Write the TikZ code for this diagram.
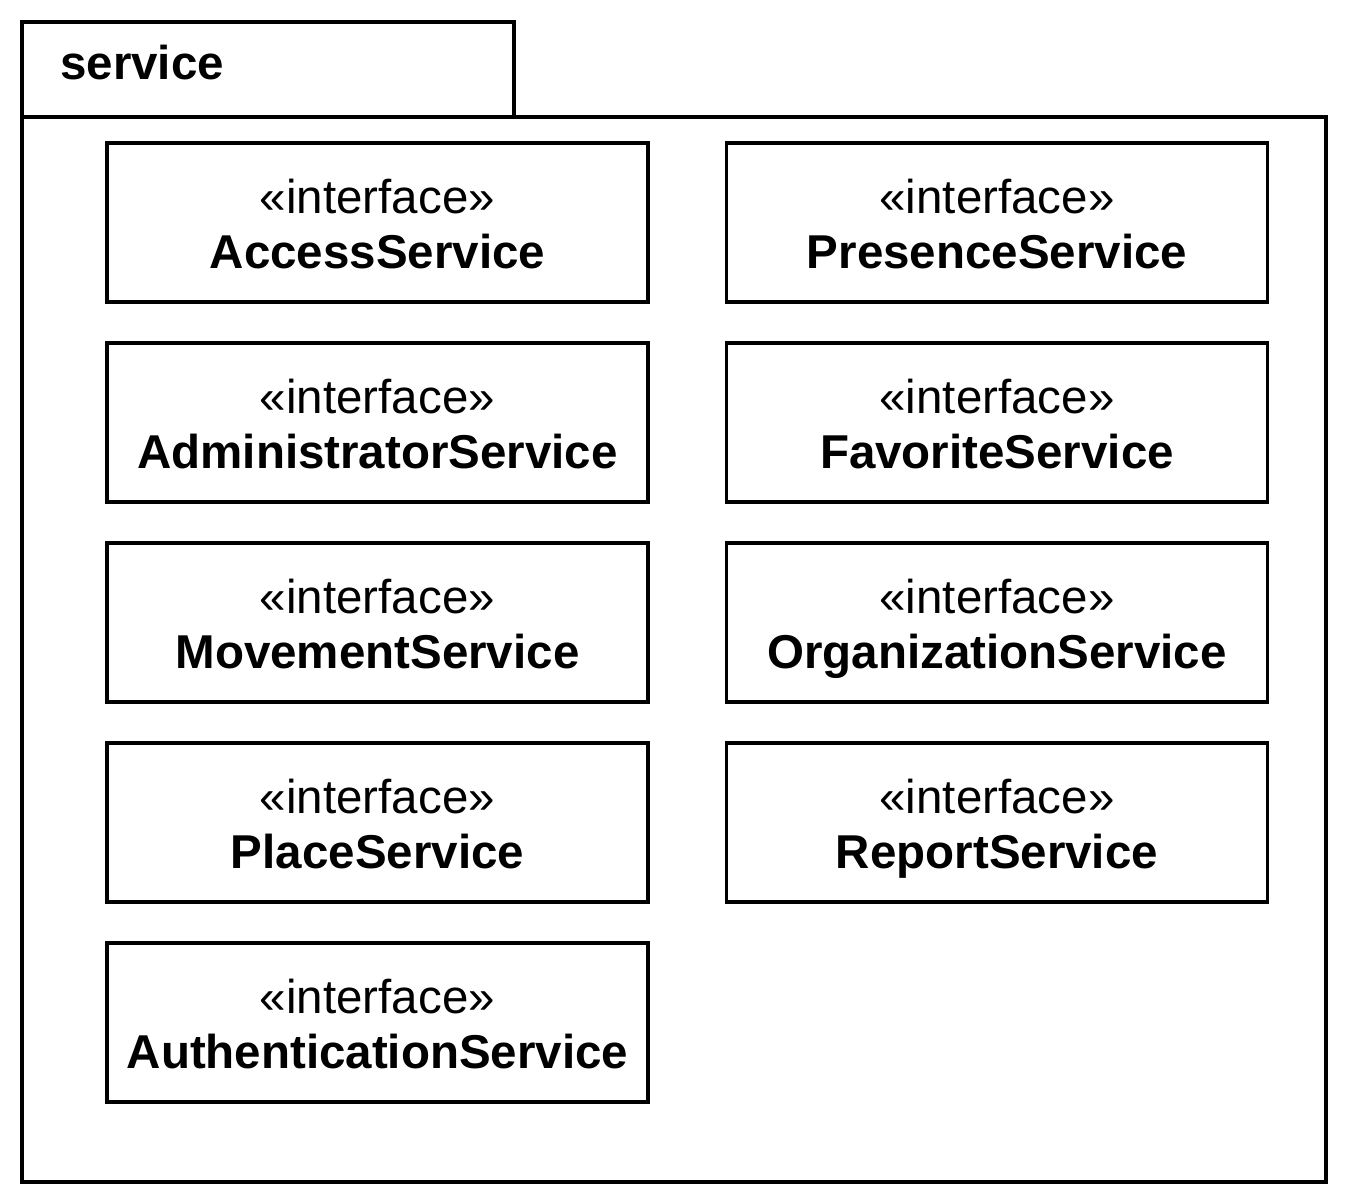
\documentclass[tikz,border=0pt]{standalone}
\usepackage{fontspec}
\setmainfont{Liberation Sans}
\begin{document}
\begin{tikzpicture}[x=1pt,y=-1pt,
  iface/.style={draw=black,line width=3.5pt,minimum width=541pt,minimum height=159pt,inner sep=0pt},
  stereo/.style={anchor=base,inner sep=0pt,font=\fontsize{47.5}{55}\selectfont},
  iname/.style={anchor=base,inner sep=0pt,font=\fontsize{47.5}{55}\selectfont\bfseries},
  pkgline/.style={draw=black,line width=3.5pt}]
\useasboundingbox (0,0) rectangle (1352,1204);
\fill[white] (0,0) rectangle (1352,1204);
% package frame
\draw[pkgline] (22,117) rectangle (1326,1182);
\draw[pkgline] (22,117) -- (22,22) -- (514,22) -- (514,117);
\node[iname,anchor=base west] (pkgname) at (60,80) {service};
% interfaces
\foreach \id/\nm/\x/\y in {
  access/AccessService/377.5/222.5,
  admin/AdministratorService/377.5/422.5,
  movement/MovementService/377.5/622.5,
  place/PlaceService/377.5/822.5,
  auth/AuthenticationService/377.5/1022.5,
  presence/PresenceService/997/222.5,
  favorite/FavoriteService/997/422.5,
  organization/OrganizationService/997/622.5,
  report/ReportService/997/822.5}{
  \node[iface] (\id) at (\x,\y) {};
  \node[stereo] (\id-st) at ([yshift=9.5pt]\id.center) {«interface»};
  \node[iname] (\id-nm) at ([yshift=-45.5pt]\id.center) {\nm};
}
\end{tikzpicture}
\end{document}
